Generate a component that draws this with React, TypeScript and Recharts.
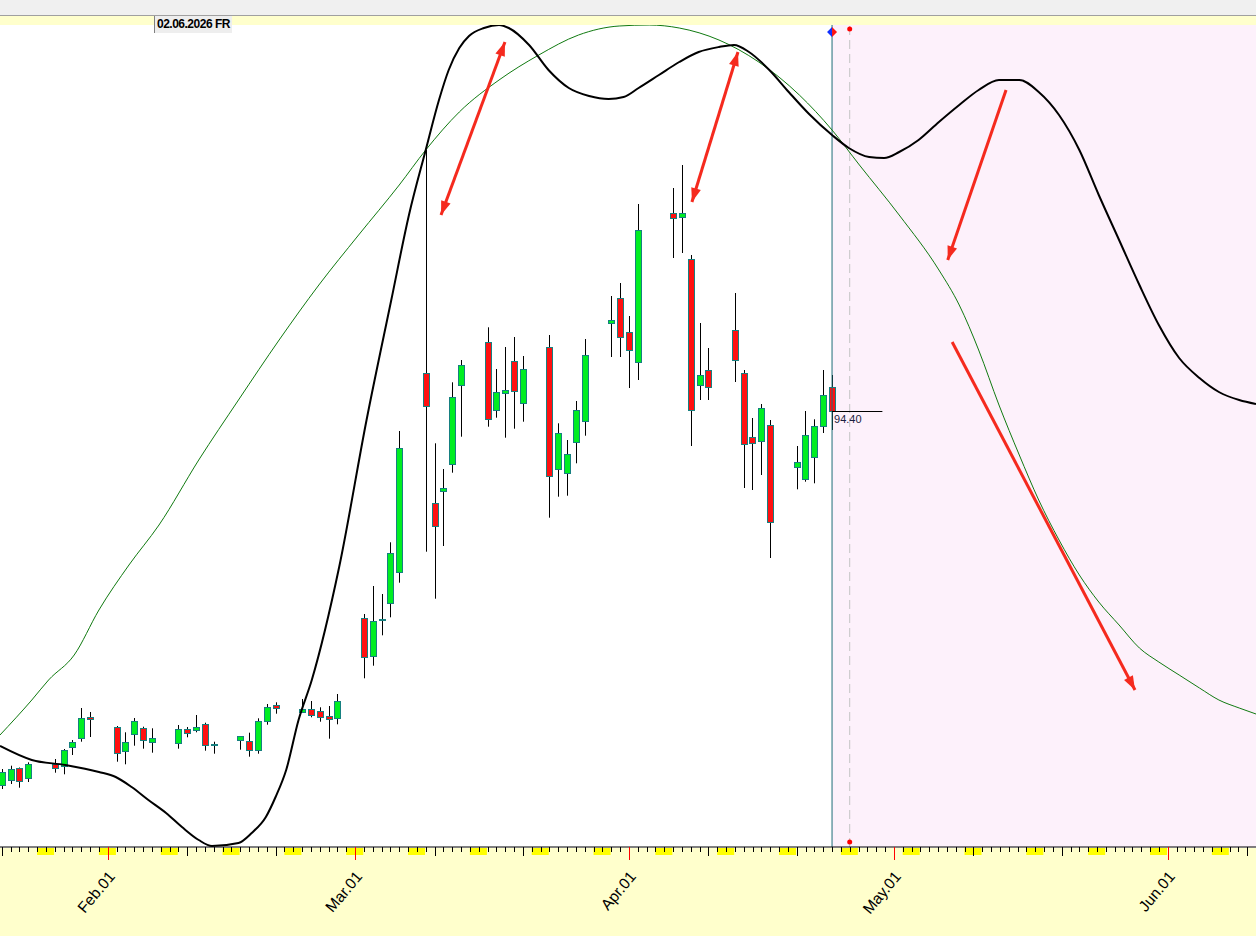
import { Bar, ComposedChart, Line, ReferenceArea, ReferenceDot, ReferenceLine, XAxis, YAxis } from "recharts";

const DAY_MS = 86400000;
const BASE = Date.UTC(2026, 0, 20);
const toDay = (iso: string) => (Date.parse(`${iso}T00:00:00Z`) - BASE) / DAY_MS;

// daily bars: date, open, high, low, close
const bars: [string, number, number, number, number][] = [
  ["2026-01-20", 56.93, 58.6, 56.6, 58.27],
  ["2026-01-21", 57.5, 58.93, 57.1, 58.6],
  ["2026-01-22", 58.67, 58.75, 56.73, 57.33],
  ["2026-01-23", 57.63, 59.27, 57.3, 59.07],
  ["2026-01-26", 59.1, 59.6, 58.23, 58.7],
  ["2026-01-27", 58.9, 60.6, 58.07, 60.5],
  ["2026-01-28", 60.77, 61.5, 60.0, 61.27],
  ["2026-01-29", 61.67, 64.7, 61.33, 63.67],
  ["2026-01-30", 63.77, 64.3, 61.8, 63.57],
  ["2026-02-02", 62.83, 62.9, 59.33, 60.27],
  ["2026-02-03", 60.33, 62.27, 59.07, 61.27],
  ["2026-02-04", 62.07, 63.7, 60.93, 63.37],
  ["2026-02-05", 62.67, 62.83, 60.63, 61.47],
  ["2026-02-06", 61.23, 62.67, 60.23, 61.67],
  ["2026-02-09", 61.17, 63.0, 60.63, 62.57],
  ["2026-02-10", 62.57, 62.8, 61.77, 62.17],
  ["2026-02-11", 62.43, 64.0, 62.27, 62.77],
  ["2026-02-12", 63.1, 63.23, 60.43, 60.97],
  ["2026-02-13", 61.1, 61.33, 60.13, 61.13],
  ["2026-02-16", 61.43, 61.9, 60.53, 61.87],
  ["2026-02-17", 61.37, 62.23, 59.83, 60.47],
  ["2026-02-18", 60.47, 63.67, 60.13, 63.37],
  ["2026-02-19", 63.33, 65.1, 63.03, 64.77],
  ["2026-02-20", 65.0, 65.27, 64.13, 64.73],
  ["2026-02-23", 64.23, 65.6, 64.2, 64.57],
  ["2026-02-24", 64.57, 65.4, 63.77, 63.97],
  ["2026-02-25", 64.37, 64.77, 63.33, 63.77],
  ["2026-02-26", 63.87, 64.9, 61.63, 63.57],
  ["2026-02-27", 63.63, 66.1, 63.07, 65.37],
  ["2026-03-02", 73.73, 74.1, 67.67, 69.87],
  ["2026-03-03", 69.87, 76.9, 68.93, 73.37],
  ["2026-03-04", 73.55, 76.1, 71.97, 73.58],
  ["2026-03-05", 75.17, 81.27, 73.77, 80.17],
  ["2026-03-06", 78.27, 92.4, 77.23, 90.67],
  ["2026-03-09", 98.17, 120.5, 80.33, 94.83],
  ["2026-03-10", 85.17, 91.17, 75.63, 82.83],
  ["2026-03-11", 86.43, 88.6, 80.9, 86.73],
  ["2026-03-12", 89.07, 97.27, 88.23, 95.77],
  ["2026-03-13", 96.97, 99.5, 91.83, 98.97],
  ["2026-03-16", 101.27, 102.77, 92.83, 93.6],
  ["2026-03-17", 94.47, 98.6, 93.73, 96.27],
  ["2026-03-18", 96.17, 100.8, 91.73, 96.5],
  ["2026-03-19", 99.37, 101.8, 92.63, 96.37],
  ["2026-03-20", 95.17, 99.9, 93.33, 98.57],
  ["2026-03-23", 100.83, 102.0, 83.73, 87.9],
  ["2026-03-24", 88.57, 93.17, 85.83, 92.17],
  ["2026-03-25", 88.17, 91.5, 85.93, 90.07],
  ["2026-03-26", 91.27, 95.4, 89.17, 94.47],
  ["2026-03-27", 93.37, 101.6, 91.93, 99.97],
  ["2026-03-30", 103.2, 105.9, 99.8, 103.5],
  ["2026-03-31", 105.7, 107.2, 99.8, 101.8],
  ["2026-04-01", 102.3, 103.9, 96.7, 100.5],
  ["2026-04-02", 99.3, 115.1, 97.5, 112.5],
  ["2026-04-06", 114.2, 116.7, 109.7, 113.7],
  ["2026-04-07", 113.8, 119.0, 110.2, 114.2],
  ["2026-04-08", 109.6, 110.0, 90.9, 94.5],
  ["2026-04-09", 97.0, 103.2, 95.5, 98.0],
  ["2026-04-10", 98.5, 100.7, 95.5, 96.8],
  ["2026-04-13", 102.5, 106.2, 97.3, 99.5],
  ["2026-04-14", 98.2, 98.5, 86.7, 91.1],
  ["2026-04-15", 91.8, 93.7, 86.5, 91.2],
  ["2026-04-16", 91.4, 95.1, 88.0, 94.7],
  ["2026-04-17", 93.0, 93.5, 79.7, 83.3],
  ["2026-04-20", 88.77, 90.9, 86.57, 89.27],
  ["2026-04-21", 87.57, 94.4, 87.33, 91.97],
  ["2026-04-22", 89.77, 93.57, 87.17, 92.9],
  ["2026-04-23", 92.9, 98.5, 92.2, 96.0],
  ["2026-04-24", 96.77, 98.0, 92.5, 94.4],
];

// black cycle line: [day, value]
const cycleBlack: [number, number][] = [
  [-0.2, 60.9], [3.4, 59.5], [7.2, 59.0], [11.0, 58.3], [12.9, 57.8], [14.7, 56.8], [16.6, 55.5],
  [18.6, 54.2], [20.4, 52.8], [22.3, 51.5], [23.8, 50.9], [26.8, 51.2], [28.3, 52.2], [29.9, 53.8],
  [31.0, 55.8], [32.2, 58.5], [33.6, 63.5], [35.1, 67.5], [38.2, 78.8], [41.3, 93.5], [44.1, 105.5],
  [46.1, 114.0], [48.0, 120.5], [49.5, 125.5], [50.6, 128.5], [51.8, 130.7], [52.9, 131.9], [54.6, 132.7],
  [56.3, 133.0], [57.4, 132.7], [59.7, 131.0], [61.9, 128.5], [64.2, 126.7], [66.5, 125.9], [68.7, 125.6],
  [70.4, 125.8], [72.1, 126.7], [74.4, 128.0], [76.7, 129.3], [78.9, 130.3], [81.2, 130.8], [82.9, 131.0],
  [84.6, 130.3], [86.9, 128.5], [89.1, 126.3], [91.4, 124.1], [94.0, 122.0], [95.9, 120.7], [98.2, 119.8],
  [99.9, 119.7], [101.6, 120.3], [103.8, 121.5], [106.1, 123.3], [108.4, 125.0], [110.6, 126.5], [112.9, 127.5],
  [115.2, 127.5], [117.4, 126.3], [119.7, 124.0], [122.0, 120.5], [124.2, 116.0], [126.5, 111.5], [128.8, 107.0],
  [131.0, 103.0], [133.3, 99.7], [135.6, 97.7], [137.8, 96.3], [140.1, 95.5], [142.0, 95.1],
];

// green cycle line: [day, value]
const cycleGreen: [number, number][] = [
  [-0.2, 62.0], [3.4, 65.5], [5.3, 67.5], [8.2, 70.0], [11.0, 74.5], [14.4, 79.0], [17.8, 83.0],
  [22.3, 89.5], [26.8, 95.5], [31.4, 101.5], [35.9, 107.0], [40.4, 112.0], [45.0, 117.0], [48.0, 120.5],
  [51.8, 124.3], [56.3, 127.5], [60.8, 130.0], [65.3, 132.0], [69.9, 132.9], [73.3, 133.0], [76.7, 132.7],
  [81.2, 131.5], [85.7, 129.3], [90.3, 126.0], [94.0, 122.5], [97.1, 119.0], [101.6, 114.0], [106.1, 108.5],
  [108.4, 105.0], [110.6, 100.5], [112.9, 95.0], [115.2, 90.0], [117.4, 85.5], [119.7, 81.5], [122.0, 78.0],
  [124.2, 75.3], [126.5, 73.0], [128.8, 70.7], [131.0, 69.3], [133.3, 68.0], [135.6, 66.7], [137.8, 65.5],
  [140.1, 64.7], [142.0, 64.1],
];

const monthTicks: [string, string][] = [
  ["2026-02-01", "Feb.01"],
  ["2026-03-01", "Mar.01"],
  ["2026-04-01", "Apr.01"],
  ["2026-05-01", "May.01"],
  ["2026-06-01", "Jun.01"],
];

// annotation arrows: from (day, price) to (day, price)
const arrows: { a: [number, number]; b: [number, number]; both: boolean }[] = [
  { a: [49.73, 114.0], b: [56.97, 131.3], both: true },
  { a: [78.14, 115.3], b: [83.35, 130.3], both: true },
  { a: [113.7, 126.5], b: [107.1, 109.5], both: false },
  { a: [107.6, 101.3], b: [128.3, 66.5], both: false },
];

const lastDate = "2026-04-24";
const lastPrice = 94.4;
const cursorDate = "2026-04-26";
const headerText = "02.06.2026 FR";

const candles = bars.map(([d, o, h, l, c]) => ({ day: toDay(d), o, h, l, c }));
const black = cycleBlack.map(([day, v]) => ({ day, v }));
const green = cycleGreen.map(([day, v]) => ({ day, v }));
const dayTicks = Array.from({ length: 142 }, (_, i) => i);
const monthLabel = new Map(monthTicks.map(([d, t]) => [toDay(d), t]));
const lastDay = toDay(lastDate);
const cursorDay = toDay(cursorDate);

const Candle = (props: any) => {
  const { x, y, width, height, payload } = props;
  const { o, h, l, c } = payload;
  const top = Math.min(y, y + height);
  const span = Math.abs(height);
  const k = span / (h - l);
  const cx = Math.round(x + width / 2) + 0.5;
  const yo = top + (h - o) * k;
  const yc = top + (h - c) * k;
  const bt = Math.round(Math.min(yo, yc)) + 0.5;
  const bh = Math.max(Math.round(Math.abs(yo - yc)), 1);
  return (
    <g>
      <line x1={cx} x2={cx} y1={top} y2={top + span} stroke="#000" strokeWidth={1} />
      <rect x={cx - 3} y={bt} width={6} height={bh} fill={c >= o ? "#00ee22" : "#ff1010"} stroke="#168080" strokeWidth={1} />
    </g>
  );
};

const DayTick = (props: any) => {
  const { x, y, payload } = props;
  const day = payload.value as number;
  const dt = new Date(BASE + day * DAY_MS);
  const dow = dt.getUTCDay();
  const dom = dt.getUTCDate();
  const label = monthLabel.get(day);
  const tx = Math.round(x) + 0.5;
  let len = 5;
  let col = "#000";
  if (dom === 10 || dom === 20) len = 9;
  if (label) { len = 13; col = "#ff0000"; }
  return (
    <g>
      {dow === 6 && <rect x={x} y={y + 1} width={17} height={7} fill="#ffff00" />}
      <line x1={tx} x2={tx} y1={y} y2={y + len} stroke={col} strokeWidth={1} />
      {label && (
        <text x={x + 8} y={y + 30} transform={`rotate(-50, ${x + 8}, ${y + 30})`} textAnchor="end" fontSize={15.5} fill="#000" fontFamily="Liberation Sans, Arial, sans-serif">
          {label}
        </text>
      )}
    </g>
  );
};

const arrowHead = (tx: number, ty: number, fx: number, fy: number) => {
  const a = Math.atan2(ty - fy, tx - fx);
  const L = 14;
  const W = 5;
  const bx = tx - L * Math.cos(a);
  const by = ty - L * Math.sin(a);
  return `${tx},${ty} ${bx + W * Math.sin(a)},${by - W * Math.cos(a)} ${bx - W * Math.sin(a)},${by + W * Math.cos(a)}`;
};

const ArrowShape = (props: any) => {
  const { x1, y1, x2, y2, both } = props;
  return (
    <g>
      <line x1={x1} y1={y1} x2={x2} y2={y2} stroke="#f52a1e" strokeWidth={3} />
      <polygon points={arrowHead(x2, y2, x1, y1)} fill="#f52a1e" />
      {both && <polygon points={arrowHead(x1, y1, x2, y2)} fill="#f52a1e" />}
    </g>
  );
};

const PriceLine = (props: any) => {
  const { x1, y1, x2 } = props;
  const yy = Math.round(y1) + 0.5;
  return (
    <g>
      <line x1={x1} x2={x2} y1={yy} y2={yy} stroke="#000" strokeWidth={1} />
      <text x={x1 + 2} y={yy + 11} fontSize={11} fill="#1a2040" fontFamily="Liberation Sans, Arial, sans-serif">
        {lastPrice.toFixed(2)}
      </text>
    </g>
  );
};

const Diamond = (props: any) => {
  const { cx, cy } = props;
  return (
    <g>
      <polygon points={`${cx - 5},${cy} ${cx},${cy - 5} ${cx},${cy + 5}`} fill="#1030ff" />
      <polygon points={`${cx},${cy - 5} ${cx + 5},${cy} ${cx},${cy + 5}`} fill="#ff1010" />
    </g>
  );
};

const RedDot = (props: any) => <circle cx={props.cx} cy={props.cy} r={2.5} fill="#ff0000" />;

export default function App() {
  return (
    <div style={{ position: "absolute", left: 0, top: 0, width: 1256, height: 936, background: "#fff", overflow: "hidden" }}>
      <div style={{ position: "absolute", left: 0, top: 0, width: 1256, height: 15, background: "#f0f0f0", borderBottom: "1px solid #a0a0a0" }} />
      <div style={{ position: "absolute", left: 0, top: 16, width: 1256, height: 9, background: "#ffffcc" }} />
      <div style={{ position: "absolute", left: 0, top: 848, width: 1256, height: 88, background: "#ffffcc" }} />
      <div style={{ position: "absolute", left: 0, top: 0 }}>
        <ComposedChart width={1256} height={936} data={candles} margin={{ top: 25, right: 0, bottom: 0, left: 0 }}>
          <XAxis
            dataKey="day"
            type="number"
            domain={[-0.2, 142]}
            allowDataOverflow
            ticks={dayTicks}
            interval={0}
            tick={(p: any) => <DayTick {...p} />}
            tickLine={false}
            tickSize={0}
            tickMargin={0}
            height={89}
            axisLine={{ stroke: "#000" }}
          />
          <YAxis hide type="number" domain={[50.8, 133]} allowDataOverflow />
          <ReferenceArea x1={lastDay} x2={142} y1={50.8} y2={133} fill="#fdf1fb" fillOpacity={1} stroke="none" />
          <ReferenceLine x={cursorDay} stroke="#c4c4c4" strokeDasharray="9 5" />
          <ReferenceLine x={lastDay} stroke="#1e6e78" />
          <ReferenceLine segment={[{ x: lastDay, y: lastPrice }, { x: lastDay + 5.7, y: lastPrice }]} shape={(p: any) => <PriceLine {...p} />} />
          <Bar dataKey={(d: any) => [d.l, d.h]} barSize={6} shape={(p: any) => <Candle {...p} />} isAnimationActive={false} />
          <Line data={green} dataKey="v" type="monotone" stroke="#107a10" strokeWidth={1} dot={false} isAnimationActive={false} />
          <Line data={black} dataKey="v" type="monotone" stroke="#000" strokeWidth={2} dot={false} isAnimationActive={false} />
          {arrows.map((ar, i) => (
            <ReferenceLine
              key={i}
              segment={[{ x: ar.a[0], y: ar.a[1] }, { x: ar.b[0], y: ar.b[1] }]}
              shape={(p: any) => <ArrowShape {...p} both={ar.both} />}
            />
          ))}
          <ReferenceDot x={lastDay} y={132.3} shape={(p: any) => <Diamond {...p} />} />
          <ReferenceDot x={cursorDay} y={132.6} shape={(p: any) => <RedDot {...p} />} />
          <ReferenceDot x={cursorDay} y={51.3} shape={(p: any) => <RedDot {...p} />} />
        </ComposedChart>
      </div>
      <div
        style={{
          position: "absolute",
          left: 154,
          top: 16,
          height: 17,
          lineHeight: "17px",
          padding: "0 2px",
          background: "#eeeeee",
          borderLeft: "1px solid #808080",
          fontFamily: "Liberation Sans, Arial, sans-serif",
          fontWeight: "bold",
          fontSize: 12,
          letterSpacing: -0.5,
          color: "#000",
        }}
      >
        {headerText}
      </div>
    </div>
  );
}
